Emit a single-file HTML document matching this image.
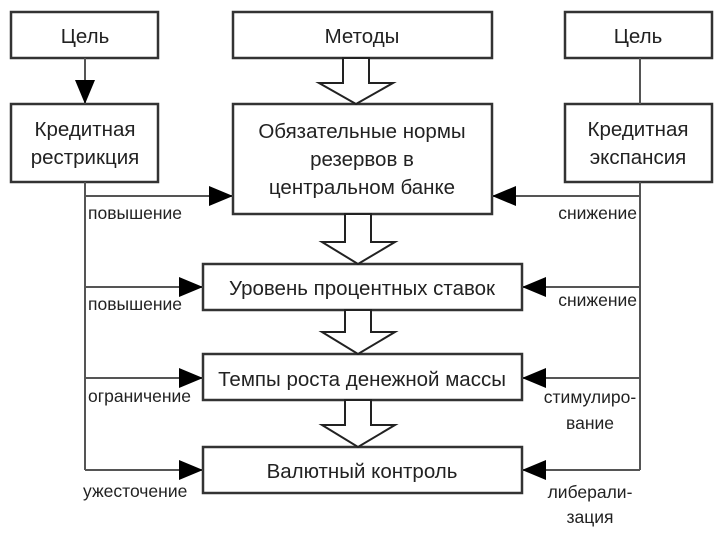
<!DOCTYPE html>
<html><head><meta charset="utf-8"><style>
body{margin:0;background:#fff}
svg text{font-family:"Liberation Sans",sans-serif;fill:#222}
</style></head><body>
<svg width="720" height="540" viewBox="0 0 720 540" xmlns="http://www.w3.org/2000/svg">
<defs>
<marker id="b" viewBox="0 0 24 20" markerWidth="24" markerHeight="20" refX="24" refY="10" orient="auto" markerUnits="userSpaceOnUse"><path d="M0,0 L24,10 L0,20Z" fill="#000"/></marker></defs>
<g fill="#fff" stroke="#333" stroke-width="2.5">
<rect x="11" y="12" width="147" height="46"/>
<rect x="233" y="12" width="259" height="46"/>
<rect x="565" y="12" width="147" height="46"/>
<rect x="11" y="104" width="147" height="78"/>
<rect x="233" y="104" width="259" height="110"/>
<rect x="565" y="104" width="147" height="78"/>
<rect x="203" y="264" width="319" height="46"/>
<rect x="203" y="354" width="319" height="46"/>
<rect x="203" y="447" width="319" height="46"/>
</g>
<g fill="none" stroke="#555" stroke-width="2">
<line x1="85" y1="58" x2="85" y2="104" marker-end="url(#b)"/>
<polyline points="85,182 85,470"/>
<polyline points="640,58 640,104"/>
<polyline points="640,182 640,470"/>
<line x1="85" y1="196" x2="233" y2="196" marker-end="url(#b)"/>
<line x1="85" y1="287" x2="203" y2="287" marker-end="url(#b)"/>
<line x1="85" y1="378" x2="203" y2="378" marker-end="url(#b)"/>
<line x1="85" y1="470" x2="203" y2="470" marker-end="url(#b)"/>
<line x1="640" y1="196" x2="492" y2="196" marker-end="url(#b)"/>
<line x1="640" y1="287" x2="522" y2="287" marker-end="url(#b)"/>
<line x1="640" y1="378" x2="522" y2="378" marker-end="url(#b)"/>
<line x1="640" y1="470" x2="522" y2="470" marker-end="url(#b)"/>
</g>
<g fill="#fff" stroke="#222" stroke-width="2">
<path d="M343,58 L369,58 L369,83 L393,83 L356,104 L319,83 L343,83Z"/>
<path d="M345,214 L371,214 L371,242 L395,242 L358,264 L322,242 L345,242Z"/>
<path d="M345,310 L371,310 L371,332 L395,332 L358,354 L322,332 L345,332Z"/>
<path d="M345,400 L371,400 L371,425 L395,425 L358,447 L322,425 L345,425Z"/>
</g>
<g font-size="20.5" text-anchor="middle">
<text x="85" y="43">Цель</text>
<text x="362" y="43">Методы</text>
<text x="638" y="43">Цель</text>
<text x="85" y="136">Кредитная</text>
<text x="85" y="164">рестрикция</text>
<text x="638" y="136">Кредитная</text>
<text x="638" y="164">экспансия</text>
<text x="362" y="138">Обязательные нормы</text>
<text x="362" y="166">резервов в</text>
<text x="362" y="194">центральном банке</text>
<text x="362" y="295">Уровень процентных ставок</text>
<text x="362" y="386">Темпы роста денежной массы</text>
<text x="362" y="478">Валютный контроль</text>
</g>
<g font-size="17.5">
<text x="88" y="219">повышение</text>
<text x="88" y="310">повышение</text>
<text x="88" y="402">ограничение</text>
<text x="83" y="497">ужесточение</text>
<text x="637" y="219" text-anchor="end">снижение</text>
<text x="637" y="306" text-anchor="end">снижение</text>
<text x="590" y="403" text-anchor="middle">стимулиро-</text>
<text x="590" y="429" text-anchor="middle">вание</text>
<text x="590" y="498" text-anchor="middle">либерали-</text>
<text x="590" y="523" text-anchor="middle">зация</text>
</g>
</svg>
</body></html>
